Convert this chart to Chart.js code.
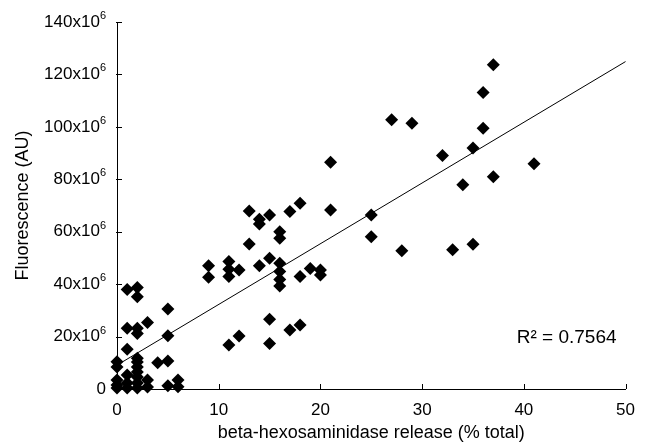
<!DOCTYPE html>
<html>
<head>
<meta charset="utf-8">
<script src="https://cdn.jsdelivr.net/npm/chart.js@4.4.0/dist/chart.umd.min.js"></script>
<style>
  html, body { margin: 0; padding: 0; background: #fff; }
  #c { display: block; }
</style>
</head>
<body>
<canvas id="c" width="646" height="444"></canvas>
<script>
// beta-hexosaminidase release (% total)
const releaseX = [
  37, 36, 27, 29, 36, 35, 32, 41, 37, 34, 21, 21, 25, 25, 28, 33, 35,
  13, 14, 14, 15, 17, 18, 16, 16, 13, 9, 9, 11, 11, 11, 12, 14, 15, 16, 16, 16, 16, 18, 19, 20, 20,
  15, 17, 18, 12, 11, 15,
  1, 2, 2, 5, 3, 1, 2, 2, 5, 1, 2, 4, 5,
  0, 0, 0, 0, 0, 1, 1, 1, 2, 2, 2, 2, 2, 2, 3, 3, 5, 6, 6
];
// Fluorescence (AU), in units of 10^6
const fluorescenceY = [
  123.7, 113.1, 102.7, 101.4, 99.5, 91.9, 89.1, 85.9, 81.0, 77.9, 86.5, 68.3, 66.4, 58.1, 52.7, 53.1, 55.2,
  67.9, 64.8, 62.9, 66.4, 67.7, 70.9, 60.0, 57.5, 55.3, 47.0, 42.6, 48.6, 45.7, 42.9, 45.4, 47.0, 49.9, 48.0, 44.8, 41.8, 39.3, 42.9, 46.0, 45.4, 43.5,
  26.6, 22.5, 24.4, 20.2, 16.8, 17.4,
  38.0, 38.7, 35.2, 30.5, 25.4, 23.2, 23.2, 21.2, 20.3, 15.2, 11.7, 10.0, 10.7,
  10.4, 8.4, 3.4, 1.5, 0.4, 5.3, 2.3, 0.4, 10.3, 8.4, 6.5, 4.6, 2.3, 0.4, 3.4, 0.8, 1.2, 3.4, 0.9
];
// linear trend line endpoints
const trendX = [0, 50];
const trendY = [9.1, 124.9];

const xTickValues = [0, 10, 20, 30, 40, 50];
const yTickValues = [0, 20, 40, 60, 80, 100, 120, 140];
const yTickLabels = ['0', '20x10^6', '40x10^6', '60x10^6', '80x10^6', '100x10^6', '120x10^6', '140x10^6'];
const rSquaredText = 'R\u00B2 = 0.7564';

const FONT = "'Liberation Sans', Arial, sans-serif";

const pts = releaseX.map((x, i) => ({ x: x, y: fluorescenceY[i] }));
const trend = trendX.map((x, i) => ({ x: x, y: trendY[i] }));

const decorPlugin = {
  id: 'decor',
  afterDraw(chart) {
    const ctx = chart.ctx;
    const xs = chart.scales.x, ys = chart.scales.y;
    const area = chart.chartArea;
    ctx.save();
    ctx.strokeStyle = '#000';
    ctx.lineWidth = 1;
    // inward tick marks
    ctx.beginPath();
    xTickValues.forEach(v => {
      const px = Math.round(xs.getPixelForValue(v)) + 0.5;
      ctx.moveTo(px, area.bottom);
      ctx.lineTo(px, area.bottom - 5);
    });
    yTickValues.forEach(v => {
      const py = Math.round(ys.getPixelForValue(v)) + 0.5;
      ctx.moveTo(area.left - 1, py);
      ctx.lineTo(area.left + 5, py);
    });
    ctx.stroke();
    // y tick labels with superscript exponent
    ctx.fillStyle = '#000';
    ctx.textBaseline = 'middle';
    yTickValues.forEach((v, i) => {
      const py = ys.getPixelForValue(v);
      const parts = yTickLabels[i].split('^');
      let right = area.left - 11;
      if (parts.length > 1) {
        ctx.font = '11px ' + FONT;
        ctx.textAlign = 'right';
        ctx.fillText(parts[1], right, py - 6);
        right -= ctx.measureText(parts[1]).width;
      }
      ctx.font = '17px ' + FONT;
      ctx.textAlign = 'right';
      ctx.fillText(parts[0], right, py);
    });
    // R^2 annotation
    ctx.font = '19px ' + FONT;
    ctx.textAlign = 'right';
    ctx.textBaseline = 'middle';
    ctx.fillText(rSquaredText, area.right - 9, area.bottom - 51);
    ctx.restore();
  }
};

new Chart(document.getElementById('c'), {
  type: 'scatter',
  data: {
    datasets: [
      {
        data: pts,
        pointStyle: 'rectRot',
        pointRadius: 6.5,
        backgroundColor: '#000',
        borderColor: '#000',
        borderWidth: 0,
        clip: false
      },
      {
        type: 'line',
        data: trend,
        showLine: true,
        borderColor: '#000',
        borderWidth: 1,
        pointRadius: 0,
        fill: false,
        clip: false
      }
    ]
  },
  options: {
    responsive: false,
    animation: false,
    devicePixelRatio: 1,
    layout: { padding: { top: 22, right: 19, left: 0, bottom: 0 } },
    plugins: { legend: { display: false }, tooltip: { enabled: false } },
    scales: {
      x: {
        type: 'linear', min: 0, max: 50,
        afterBuildTicks(s) { s.ticks = xTickValues.map(v => ({ value: v })); },
        ticks: { color: '#000', font: { size: 17, family: FONT }, padding: 11, maxRotation: 0 },
        grid: { display: false, drawTicks: false },
        border: { display: true, color: '#000', width: 1 },
        title: { display: true, text: 'beta-hexosaminidase release (% total)', color: '#000',
                 font: { size: 18, family: FONT }, padding: { top: 0, bottom: 0 } },
        afterFit(s) { s.height = 55; }
      },
      y: {
        type: 'linear', min: 0, max: 140,
        afterBuildTicks(s) { s.ticks = yTickValues.map(v => ({ value: v })); },
        ticks: { display: false },
        grid: { display: false, drawTicks: false },
        border: { display: true, color: '#000', width: 1 },
        title: { display: true, text: 'Fluorescence (AU)', color: '#000',
                 font: { size: 18, family: FONT }, padding: { top: 12, bottom: 0 } },
        afterFit(s) { s.width = 117; }
      }
    }
  },
  plugins: [decorPlugin]
});
</script>
</body>
</html>
